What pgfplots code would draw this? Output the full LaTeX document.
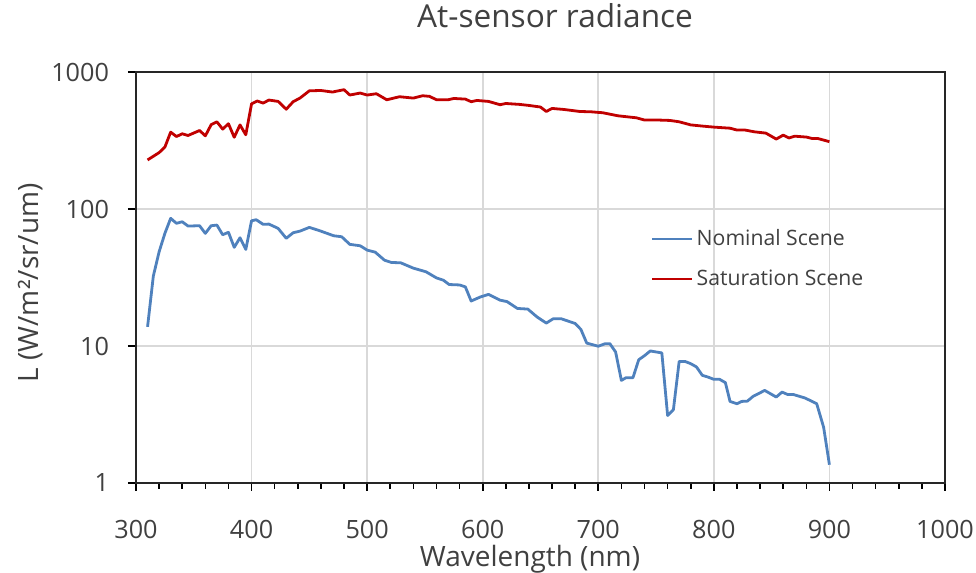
\documentclass[border=0pt]{standalone}
\usepackage{fontspec}
\setmainfont{Open Sans}
\usepackage{pgfplots}
\pgfplotsset{compat=1.18}
\definecolor{nomblue}{HTML}{4F81BD}
\definecolor{satred}{HTML}{C00000}
\definecolor{gridgray}{HTML}{D9D9D9}
\definecolor{txtgray}{HTML}{404040}

\begin{document}
\begin{tikzpicture}
% 1 px of the reference = 0.5pt
\useasboundingbox (-68pt,-45pt) rectangle (420pt,241.5pt);
\begin{axis}[
    at={(0pt,0pt)}, anchor=south west,
    scale only axis,
    width=404.5pt, height=205.5pt,
    xmin=300, xmax=1000,
    ymin=1, ymax=1000,
    ymode=log,
    log basis y=10,
    xtick={300,400,...,1000},
    minor x tick num=4,
    ytick={1,10,100,1000},
    yticklabels={1,10,100,1000},
    yminorticks=false,
    tick pos=left,
    tick align=outside,
    major tick length=4pt,
    minor tick length=3pt,
    tick style={black, line width=0.8pt},
    axis line style={black!85, line width=0.9pt},
    grid=major,
    major grid style={gridgray, line width=0.8pt},
    /pgf/number format/assume math mode=true,
    /pgf/number format/1000 sep={},
    ticklabel style={font=\fontsize{12.6}{15}\selectfont, text=txtgray},
    xticklabel style={yshift=-11pt},
    yticklabel style={xshift=-6pt},
    title={At-sensor radiance},
    title style={at={(axis description cs:0.518,1.078)}, anchor=base,
        font=\fontsize{15.8}{19}\selectfont, text=txtgray},
    xlabel={Wavelength (nm)},
    xlabel style={at={(axis description cs:0.487,-0.202)}, anchor=base,
        font=\fontsize{14}{17}\selectfont, text=txtgray},
    ylabel={L (W/m²/sr/um)},
    ylabel style={at={(axis description cs:-0.13,0.487)}, anchor=center,
        font=\fontsize{14}{17}\selectfont, text=txtgray},
    legend style={at={(axis description cs:0.636,0.625)}, anchor=north west,
        draw=none, fill=none, font=\fontsize{10.6}{12}\selectfont,
        text=txtgray, row sep=7.5pt, inner sep=0pt,
        nodes={inner sep=1.5pt}},
    legend cell align=left,
    legend image code/.code={\draw[#1] (0pt,0pt) -- (20pt,0pt);},
]
\addplot[nomblue, line width=1.4pt, line join=round] coordinates {
(310,13.8) (315,32.4) (320,48.7) (325,66.4) (330,85.5) (335,78.6) (340,80.7)
(345,75.1) (355,75.5) (360,66.4) (365,75.5) (370,76.3) (375,64.9) (380,67.6)
(385,52.5) (390,61.7) (395,50.7) (400,82) (404,83.5) (410,77.3) (415,77.6)
(423,72.2) (430,61.1) (436,67.1) (442,69) (450,73.4) (459,69.4) (471,63.8)
(478,62.7) (485,55.2) (494,53.9) (500,50.1) (507,48.4) (515,42.3) (521,40.7)
(529,40.5) (540,37) (551,34.8) (560,31.4) (566,30.2) (571,28.1) (580,27.9)
(585,27.0) (590,21.3) (598,22.8) (605,23.8) (615,21.6) (621,21.1) (630,18.8)
(639,18.6) (647,16.3) (655,14.7) (661,15.8) (668,15.8) (680,14.6) (685,13.2)
(690,10.5) (700,9.96) (706,10.4) (710,10.4) (715,9.04) (720,5.61) (724,5.87)
(730,5.87) (735,7.94) (740,8.5) (745,9.2) (755,8.9) (760,3.11) (765,3.43)
(770,7.72) (775,7.72) (780,7.43) (785,7.03) (790,6.11) (795,5.93) (800,5.71)
(805,5.71) (810,5.40) (814,3.94) (820,3.79) (824,3.94) (829,3.96) (834,4.29)
(844,4.74) (854,4.24) (859,4.61) (864,4.42) (869,4.42) (879,4.17) (889,3.79)
(895,2.55) (900,1.36)
};
\addlegendentry{Nominal Scene}
\addplot[satred, line width=1.4pt, line join=round] coordinates {
(310,228) (320,258) (325,283) (330,364) (335,338) (340,354) (345,344)
(355,374) (360,342) (365,412) (370,433) (375,383) (380,419) (385,334)
(390,411) (395,348) (400,586) (405,614) (410,593) (415,624) (423,610)
(430,535) (436,607) (442,646) (450,729) (460,733) (470,714) (480,743)
(485,679) (494,702) (500,679) (508,694) (517,627) (528,660) (540,645)
(548,671) (554,664) (560,627) (570,627) (575,641) (585,634) (590,607)
(595,620) (605,610) (615,577) (620,589) (632,580) (640,570) (650,555)
(655,515) (660,542) (670,533) (684,515) (694,512) (704,504) (717,479)
(733,463) (740,446) (752,446) (762,443) (770,433) (780,411) (790,403)
(800,396) (814,389) (820,377) (827,377) (835,366) (845,358) (854,324)
(860,346) (865,330) (870,340) (880,335) (885,327) (890,327) (900,310)
};
\addlegendentry{Saturation Scene}
\end{axis}
\end{tikzpicture}
\end{document}
